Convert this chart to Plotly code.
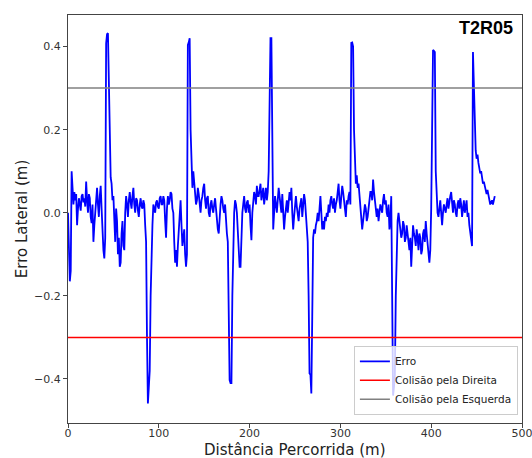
import plotly.graph_objects as go

# Distance grid (m), 1 m sampling
distancia = list(range(0, 471))

# Lateral error (m), one value per metre
erro = [
    0.0, -0.08, -0.165, -0.14, 0.10, 0.06, 0.02, 0.05, 0.03, 0.045,
    -0.03, 0.01, 0.035, 0.02, 0.005, 0.04, 0.045, 0.025, 0.035, 0.015,
    0.075, 0.03, 0.0, 0.045, 0.035, -0.01, -0.025, 0.02, -0.07, -0.03,
    0.0, 0.05, 0.06, 0.02, -0.01, 0.04, 0.065, 0.01, -0.05, -0.09,
    -0.11, -0.06, 0.408, 0.43, 0.432, 0.3, 0.15, 0.085, 0.07, 0.03,
    0.04, -0.03, -0.07, 0.01, -0.02, -0.1, -0.06, -0.13, -0.12, -0.05,
    -0.02, -0.08, -0.09, 0.0, 0.04, 0.02, -0.01, 0.03, 0.05, 0.025,
    0.01, 0.04, 0.06, 0.02, 0.0, 0.035, 0.03, 0.005, -0.01, 0.02,
    0.035, 0.015, 0.01, 0.03, 0.02, -0.03, -0.07, -0.3, -0.459, -0.42,
    -0.38, -0.2, -0.06, -0.03, 0.02, 0.005, 0.0, 0.025, 0.03, 0.015,
    0.01, 0.035, 0.04, 0.02, 0.02, 0.04, 0.03, -0.02, -0.06, 0.01,
    0.04, 0.02, 0.03, 0.05, 0.045, 0.01, 0.0, -0.07, -0.12, -0.09,
    -0.13, -0.08, -0.05, 0.0, 0.03, -0.03, -0.08, -0.06, -0.04, -0.1,
    -0.13, -0.1, 0.404, 0.41, 0.42, 0.2, 0.09, 0.06, 0.1, 0.07,
    0.05, 0.02, 0.03, 0.06, 0.045, 0.01, 0.0, 0.03, 0.04, 0.06,
    0.07, 0.03, 0.01, 0.035, 0.04, 0.0, -0.01, 0.02, 0.03, 0.01,
    0.0, 0.02, 0.035, 0.01, -0.02, -0.04, -0.05, 0.0, 0.02, 0.04,
    0.03, 0.01, 0.0, 0.02, -0.03, -0.05, -0.07, -0.3, -0.403, -0.41,
    -0.41, -0.2, -0.05, 0.0, 0.03, 0.02, 0.0, -0.06, -0.11, -0.13,
    -0.13, -0.05, 0.0, 0.02, 0.04, 0.01, 0.0, 0.025, 0.03, 0.0,
    0.02, -0.03, -0.066, 0.0, 0.03, 0.05, 0.04, 0.02, 0.065, 0.04,
    0.04, 0.06, 0.07, 0.03, 0.05, 0.06, 0.02, 0.04, 0.06, 0.03,
    0.05, 0.1, 0.332, 0.42, 0.42, 0.1, -0.04, 0.0, 0.04, 0.02,
    0.0, 0.03, 0.06, 0.04, 0.02, 0.0, 0.045, 0.01, -0.04, -0.01,
    0.01, 0.03, 0.0, 0.02, 0.05, 0.03, 0.06, 0.0, -0.04, -0.01,
    0.02, 0.04, 0.015, 0.0, -0.02, 0.01, 0.02, 0.035, -0.01, 0.01,
    0.045, 0.03, 0.0, -0.03, -0.07, -0.2, -0.387, -0.39, -0.435, -0.25,
    -0.06, -0.04, -0.05, -0.03, -0.02, 0.0, -0.02, 0.01, 0.04, 0.0,
    -0.04, -0.02, -0.04, -0.01, -0.02, 0.0, -0.01, 0.02, 0.0, 0.03,
    0.04, 0.02, 0.01, 0.035, 0.0, 0.02, 0.03, 0.05, 0.07, 0.03,
    0.01, 0.04, 0.065, 0.05, 0.03, 0.0, -0.01, 0.03, 0.02, 0.04,
    0.05, 0.02, 0.409, 0.41, 0.40, 0.2, 0.1, 0.07, 0.09, 0.06,
    0.07, 0.04, 0.02, 0.0, -0.04, -0.02, 0.0, 0.02, 0.01, -0.02,
    -0.01, 0.02, 0.03, 0.05, 0.05, 0.03, 0.08, 0.05, 0.03, 0.0,
    -0.01, 0.01, -0.02, 0.0, 0.02, 0.01, 0.0, 0.03, 0.045, 0.02,
    0.03, 0.0, -0.01, 0.02, -0.04, -0.02, 0.04, -0.2, -0.44, -0.42,
    -0.39, -0.2, -0.05, -0.02, 0.0, -0.02, -0.03, -0.06, -0.05, -0.02,
    -0.03, -0.07, -0.06, -0.03, -0.05, -0.07, -0.09, -0.06, -0.13, -0.08,
    -0.03, -0.05, -0.06, -0.08, -0.04, -0.06, -0.09, -0.05, -0.06, -0.1,
    -0.09, -0.05, -0.04, -0.07, -0.02, -0.05, -0.07, -0.1, -0.12, -0.09,
    0.01, 0.2, 0.392, 0.39, 0.387, 0.1, 0.02, 0.0, -0.01, 0.02,
    0.03, 0.0, -0.03, 0.0, 0.02, 0.01, 0.0, 0.02, 0.035, 0.01,
    0.03, 0.04, 0.05, 0.02, 0.0, 0.03, 0.02, 0.0, -0.01, 0.02,
    0.03, 0.01, 0.035, 0.02, -0.01, 0.01, 0.03, 0.0, 0.02, 0.03,
    -0.01, 0.0, -0.03, -0.05, -0.075, -0.08, 0.387, 0.3, 0.2, 0.15,
    0.13, 0.14, 0.12, 0.11, 0.095, 0.1, 0.085, 0.07, 0.075, 0.065,
    0.06, 0.045, 0.055, 0.04, 0.035, 0.02, 0.025, 0.03, 0.02, 0.03,
    0.04,
]

limite_direita = -0.3
limite_esquerda = 0.3
x_limites = [0, 500]

x_ticks = [0, 100, 200, 300, 400, 500]
y_ticks = [-0.4, -0.2, 0.0, 0.2, 0.4]
y_tick_labels = ["\u22120.4", "\u22120.2", "0.0", "0.2", "0.4"]

titulo = "T2R05"
x_titulo = "Distância Percorrida (m)"
y_titulo = "Erro Lateral (m)"

fig = go.Figure()
fig.add_trace(go.Scatter(
    x=distancia[:len(erro)], y=erro, mode="lines", name="Erro",
    line=dict(color="#0000ff", width=1.8),
))
fig.add_trace(go.Scatter(
    x=x_limites, y=[limite_direita, limite_direita], mode="lines",
    name="Colisão pela Direita", line=dict(color="#ff0000", width=1.5),
))
fig.add_trace(go.Scatter(
    x=x_limites, y=[limite_esquerda, limite_esquerda], mode="lines",
    name="Colisão pela Esquerda", line=dict(color="#808080", width=1.5),
))

axis_common = dict(
    showgrid=False, zeroline=False, showline=True, mirror=True,
    linecolor="#444444", linewidth=1, ticks="outside", ticklen=4,
    tickcolor="#444444", automargin=False, ticklabeloverflow="allow",
    tickfont=dict(family="DejaVu Sans", size=11, color="#333333"),
)

fig.update_layout(
    width=532, height=458,
    margin=dict(l=68, r=10, t=15, b=35),
    paper_bgcolor="white", plot_bgcolor="white",
    font=dict(family="DejaVu Sans", color="#222222"),
    xaxis=dict(range=[0, 500], tickvals=x_ticks, ticklabelstandoff=-4, **axis_common),
    yaxis=dict(range=[-0.506, 0.476], tickvals=y_ticks, ticktext=y_tick_labels,
               **axis_common),
    legend=dict(
        x=0.991, y=0.02, xanchor="right", yanchor="bottom",
        bgcolor="rgba(255,255,255,0.8)", bordercolor="#cccccc", borderwidth=1,
        font=dict(family="DejaVu Sans", size=10.5, color="#222222"),
        tracegroupgap=0,
    ),
    showlegend=True,
    annotations=[
        dict(text="<b>" + titulo + "</b>", xref="paper", yref="paper",
             x=0.985, y=0.968, xanchor="right", yanchor="middle", showarrow=False,
             font=dict(family="Liberation Sans", size=18, color="#000000")),
        dict(text=x_titulo, xref="paper", yref="paper",
             x=0.5, y=-0.066, xanchor="center", yanchor="middle", showarrow=False,
             font=dict(family="DejaVu Sans", size=15, color="#222222")),
        dict(text=y_titulo, xref="paper", yref="paper", textangle=-90,
             x=-0.101, y=0.5, xanchor="center", yanchor="middle", showarrow=False,
             font=dict(family="DejaVu Sans", size=15, color="#222222")),
    ],
)

fig.write_html("out.html")
